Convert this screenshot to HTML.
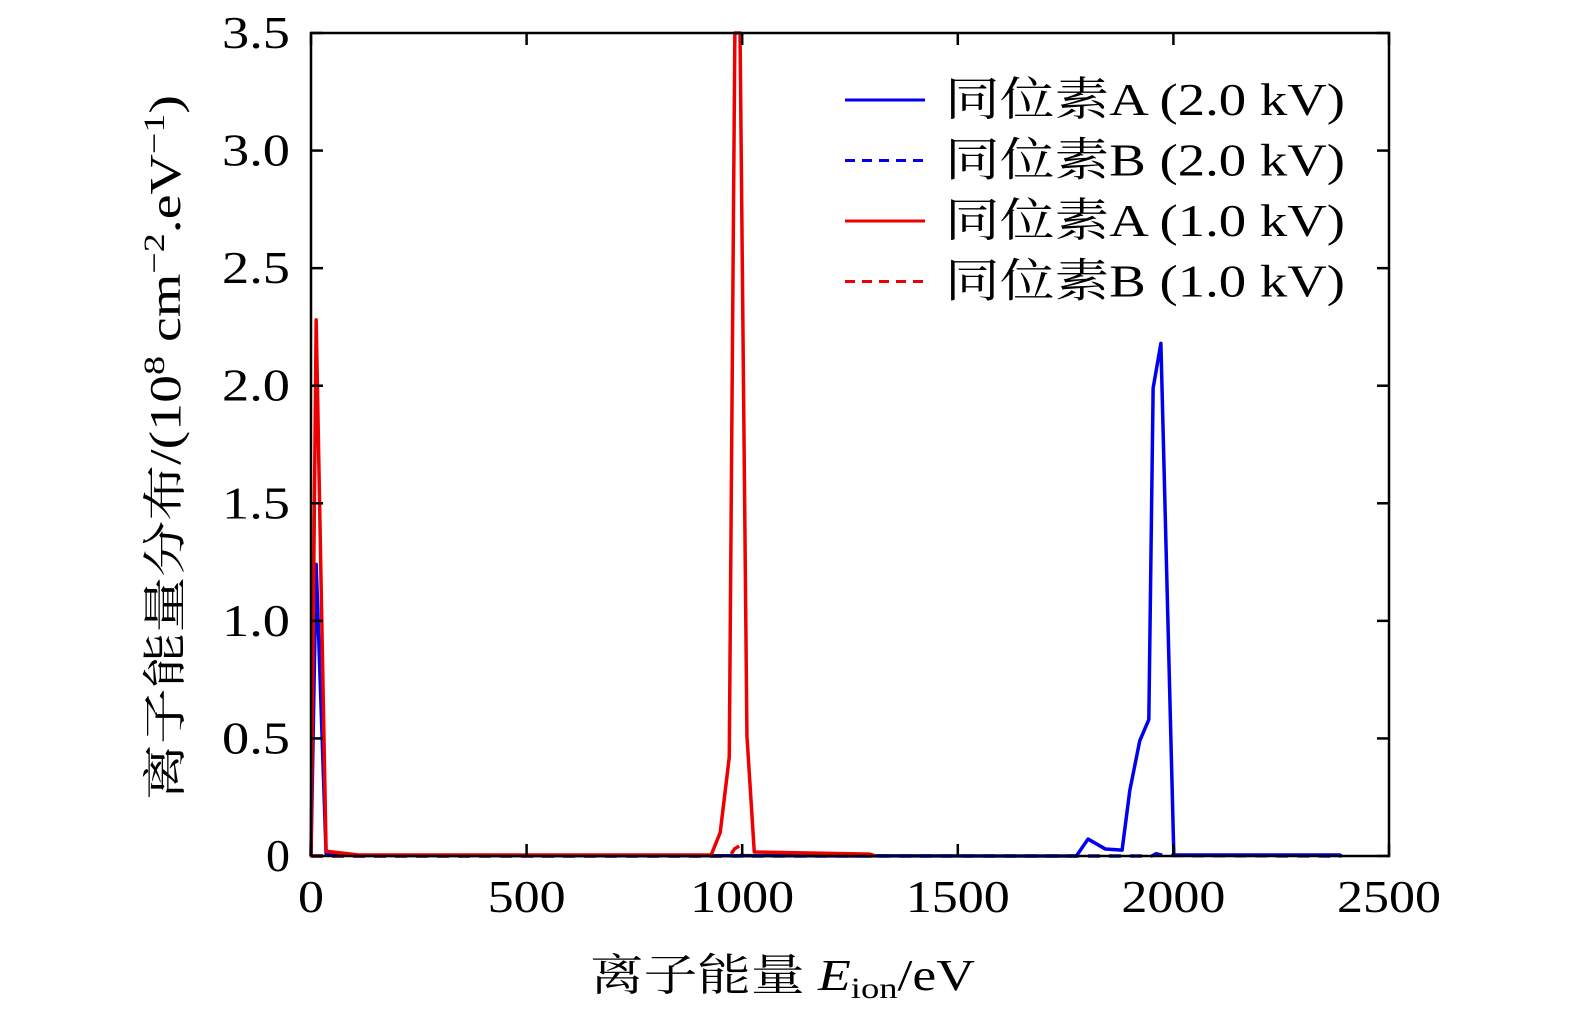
<!DOCTYPE html>
<html><head><meta charset="utf-8"><style>
body{margin:0;background:#fff}
svg text{font-family:"Liberation Serif","Noto Serif CJK SC",serif;fill:#000}
</style></head><body>
<svg width="1575" height="1024">
<g id="plot"></g>
</svg>
<script>
const xTicks=[0,500,1000,1500,2000,2500];
const yTicks=[0,0.5,1.0,1.5,2.0,2.5,3.0,3.5];
const yTickLabels=["0","0.5","1.0","1.5","2.0","2.5","3.0","3.5"];
const redAx=[0,12,35,114,500,928,949,970,983,995,1011,1028,1296,1310];
const redAy=[0,2.28,0.02,0.004,0.004,0.004,0.1,0.42,3.5,3.5,0.51,0.017,0.008,0];
const redBx=[0,960,975,982,995,1000,1300];
const redBy=[0,0,0.01,0.03,0.045,0.002,0];
const blueAx=[0,12,35,100,1775,1802,1842,1881,1899,1922,1943,1953,1971,2001,2386,2390];
const blueAy=[0,1.24,0.01,0.002,0,0.072,0.03,0.025,0.28,0.49,0.58,1.99,2.18,0.004,0.004,0];
const blueBx=[0,1950,1960,1970,2000,2390];
const blueBy=[0,0,0.01,0.005,0.002,0];
const legendLabels=["同位素A (2.0 kV)","同位素B (2.0 kV)","同位素A (1.0 kV)","同位素B (1.0 kV)"];
const X0=311,X1=1389,Y0=856,Y1=33;
const sx=v=>X0+(v/2500)*(X1-X0);
const sy=v=>Y0-(v/3.5)*(Y0-Y1);
const NS="http://www.w3.org/2000/svg";
const g=document.getElementById('plot');
function mk(t,a,txt){const e=document.createElementNS(NS,t);for(const k in a)e.setAttribute(k,a[k]);if(txt!==undefined)e.textContent=txt;g.appendChild(e);return e;}
function line(xs,ys,color,dash,name){
 const p=mk('polyline',{points:xs.map((x,i)=>sx(x)+','+sy(ys[i])).join(' '),fill:'none',stroke:color,'stroke-width':3.5,'stroke-dasharray':dash||'none','stroke-linejoin':'round'});
 
 
}
line(blueBx,blueBy,'#0000ee','12,9','series-b-2kv');
line(redBx,redBy,'#ee0000','12,9','series-b-1kv');
line(blueAx,blueAy,'#0000ee','','series-a-2kv');
line(redAx,redAy,'#ee0000','','series-a-1kv');
const fr=mk('rect',{x:X0,y:Y1,width:X1-X0,height:Y0-Y1,fill:'none',stroke:'#000','stroke-width':2.5});


xTicks.forEach(t=>{
 mk('line',{x1:sx(t),x2:sx(t),y1:Y0,y2:Y0-12,stroke:'#000','stroke-width':2.5});
 mk('line',{x1:sx(t),x2:sx(t),y1:Y1,y2:Y1+12,stroke:'#000','stroke-width':2.5});
 const s=String(t);
 const l=mk('text',{x:sx(t),y:912,'font-size':46,'text-anchor':'middle',textLength:s.length*26,lengthAdjust:'spacingAndGlyphs'},s);
 
 
});
yTicks.forEach((t,i)=>{
 mk('line',{x1:X0,x2:X0+12,y1:sy(t),y2:sy(t),stroke:'#000','stroke-width':2.5});
 mk('line',{x1:X1,x2:X1-12,y1:sy(t),y2:sy(t),stroke:'#000','stroke-width':2.5});
 const s=yTickLabels[i];
 const l=mk('text',{x:290,y:sy(t)+15,'font-size':46,'text-anchor':'end',textLength:s.length===1?24:68,lengthAdjust:'spacingAndGlyphs'},s);
 
 
});
const xt=mk('text',{x:590,y:990,'font-size':44,textLength:385,lengthAdjust:'spacingAndGlyphs'});
xt.innerHTML='离子能量 <tspan font-style="italic">E</tspan><tspan font-size="30" dy="8">ion</tspan><tspan dy="-8">/eV</tspan>';


const yt=mk('text',{x:0,y:0,'font-size':44,textLength:705,lengthAdjust:'spacingAndGlyphs',transform:'translate(180,800) rotate(-90)'});
yt.innerHTML='离子能量分布/(10<tspan font-size="30" dy="-16">8</tspan><tspan dy="16"> cm</tspan><tspan font-size="30" dy="-16">−2</tspan><tspan dy="16">.eV</tspan><tspan font-size="30" dy="-16">−1</tspan><tspan dy="16">)</tspan>';


const cols=['#0000ee','#0000ee','#ee0000','#ee0000'],dashes=['','10,7','','10,7'];
legendLabels.forEach((s,i)=>{
 const y=100+i*60.5;
 const ln=mk('line',{x1:845,x2:925,y1:y,y2:y,stroke:cols[i],'stroke-width':3,'stroke-dasharray':dashes[i]||'none'});
 
 
 const t=mk('text',{x:945,y:y+15,'font-size':46,textLength:400,lengthAdjust:'spacingAndGlyphs'},s);
 
 
});
</script>
</body></html>
